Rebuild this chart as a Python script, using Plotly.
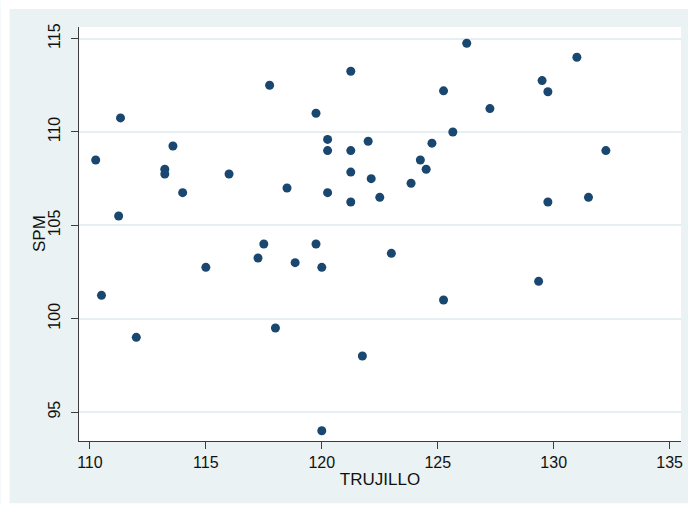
import plotly.graph_objects as go

# TRUJILLO vs SPM observations
trujillo = [110.25, 111.32, 111.24, 113.58, 113.23, 113.23, 114.0, 116.0, 117.75, 118.5,
            119.75, 120.25, 120.25, 120.25, 121.25, 121.25, 121.25, 121.25, 122.0, 122.13,
            122.5, 117.5, 119.75, 126.25, 131.0, 129.5, 129.75, 125.25, 127.25, 125.65,
            124.75, 124.25, 124.5, 123.85, 132.25, 131.5, 129.75, 110.5, 112.0, 115.0,
            117.25, 118.0, 118.85, 120.0, 121.75, 120.0, 123.0, 125.25, 129.35]
spm = [108.5, 110.75, 105.5, 109.25, 108.0, 107.75, 106.75, 107.75, 112.5, 107.0,
       111.0, 109.6, 109.0, 106.75, 113.25, 109.0, 107.85, 106.25, 109.5, 107.5,
       106.5, 104.0, 104.0, 114.75, 114.0, 112.75, 112.15, 112.2, 111.25, 110.0,
       109.4, 108.5, 108.0, 107.25, 109.0, 106.5, 106.25, 101.25, 99.0, 102.75,
       103.25, 99.5, 103.0, 102.75, 98.0, 94.0, 103.5, 101.0, 102.0]

x_ticks = [110, 115, 120, 125, 130, 135]
y_ticks = [95, 100, 105, 110, 115]

W, H = 688, 505
L, R, T, B = 78.5, 7, 27, 64.3
pw, ph = W - L - R, H - T - B

NAVY = "#1a476f"
REGION = "#eaf2f3"
GRID = "#e5eef0"
AXIS = "#3c3c3c"
FONT = "Liberation Sans, Arial, sans-serif"

fig = go.Figure(
    go.Scatter(
        x=trujillo, y=spm, mode="markers",
        marker=dict(color=NAVY, size=9, line=dict(width=0)),
        showlegend=False,
    )
)


def px_to_paper_x(p):
    return (p - L) / pw


def px_to_paper_y(p):
    return (H - B - p) / ph


# white frame strips around the tinted graph region
strips = [
    (0, 0, W, 9),
    (0, 0, 9, H),
    (0, 503, W, H),
]
shapes = [
    dict(type="rect", xref="paper", yref="paper",
         x0=px_to_paper_x(x0), x1=px_to_paper_x(x1),
         y0=px_to_paper_y(y1), y1=px_to_paper_y(y0),
         fillcolor="white", line=dict(width=0), layer="below")
    for x0, y0, x1, y1 in strips
]

fig.update_layout(
    width=W, height=H,
    margin=dict(l=L, r=R, t=T, b=B, pad=0),
    paper_bgcolor=REGION,
    plot_bgcolor="white",
    font=dict(family=FONT, color="#111111", size=16),
    shapes=shapes,
    annotations=[
        dict(text="SPM", textangle=-90, showarrow=False,
             xref="paper", yref="paper",
             x=px_to_paper_x(38.5), y=0.5,
             xanchor="center", yanchor="middle",
             font=dict(size=17)),
    ],
    xaxis=dict(
        range=[109.53, 135.49],
        tickmode="array", tickvals=x_ticks, ticktext=[str(v) for v in x_ticks],
        showgrid=False, zeroline=False,
        showline=True, linecolor=AXIS, linewidth=1,
        ticks="outside", ticklen=7, tickwidth=1, tickcolor=AXIS,
        tickfont=dict(size=16),
        title=dict(text="TRUJILLO", font=dict(size=17), standoff=2),
        automargin=False,
    ),
    yaxis=dict(
        range=[93.45, 115.62],
        tickmode="array", tickvals=y_ticks, ticktext=[str(v) for v in y_ticks],
        tickangle=-90, ticklabelstandoff=5,
        showgrid=True, gridcolor=GRID, gridwidth=1.5,
        zeroline=False,
        showline=True, linecolor=AXIS, linewidth=1,
        ticks="outside", ticklen=7, tickwidth=1, tickcolor=AXIS,
        tickfont=dict(size=16),
        automargin=False,
    ),
)

fig.write_html("out.html")
